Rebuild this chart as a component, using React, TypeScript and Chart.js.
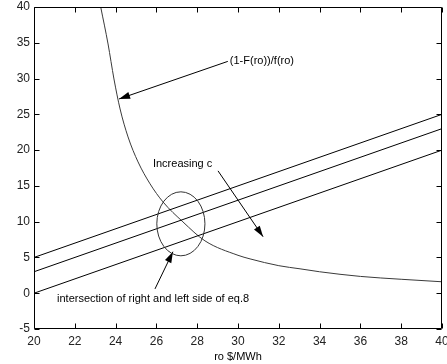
import React, { useEffect, useRef } from "react";
import { Chart, registerables } from "chart.js";

Chart.register(...registerables);

// ---- Data ----
const X_RANGE = [20, 40];
const LINE_HIGH = [5, 25];
const LINE_MID = [3, 23];
const LINE_LOW = [0, 20];
const CURVE_X = [23.27, 23.63, 23.92, 24.22, 24.61, 25.1, 25.69, 26.32, 27.3, 28.38, 30.0, 30.59, 32, 33.04, 34, 36, 38, 40];
const CURVE_Y = [40, 34.83, 29.94, 25.75, 21.84, 18.35, 15.28, 12.77, 9.97, 7.32, 5.3, 4.8, 3.85, 3.41, 3.0, 2.35, 1.95, 1.6];
const X_TICKS = [20, 22, 24, 26, 28, 30, 32, 34, 36, 38, 40];
const Y_TICKS = [-5, 0, 5, 10, 15, 20, 25, 30, 35, 40];
const X_TITLE = "ro $/MWh";
const CURVE_LABEL = "(1-F(ro))/f(ro)";
const INC_LABEL = "Increasing c";
const INTER_LABEL = "intersection of right and left side of eq.8";

const FONT = '"Liberation Sans", Arial, Helvetica, sans-serif';

const annotationPlugin = {
  id: "matlabAnnotations",
  afterDatasetsDraw(chart: any) {
    const { ctx, chartArea } = chart;
    const xs = chart.scales.x;
    const ys = chart.scales.y;
    const px = (v: number) => xs.getPixelForValue(v);
    const py = (v: number) => ys.getPixelForValue(v);

    ctx.save();
    // Box
    const l = Math.round(chartArea.left) + 0.5;
    const r = Math.round(chartArea.right) - 0.5;
    const t = Math.round(chartArea.top) + 0.5;
    const b = Math.round(chartArea.bottom) - 0.5;
    ctx.strokeStyle = "#000";
    ctx.lineWidth = 1;
    ctx.beginPath();
    ctx.rect(l, t, r - l, b - t);
    ctx.stroke();
    // Inward ticks
    const TL = 5;
    ctx.beginPath();
    X_TICKS.forEach((v) => {
      const x = Math.round(px(v)) + 0.5;
      ctx.moveTo(x, b);
      ctx.lineTo(x, b - TL);
      ctx.moveTo(x, t);
      ctx.lineTo(x, t + TL);
    });
    Y_TICKS.forEach((v) => {
      const y = Math.round(py(v)) + 0.5;
      ctx.moveTo(l, y);
      ctx.lineTo(l + TL, y);
      ctx.moveTo(r, y);
      ctx.lineTo(r - TL, y);
    });
    ctx.stroke();

    const arrow = (x0: number, y0: number, x1: number, y1: number) => {
      const ax = px(x0), ay = py(y0), bx = px(x1), by = py(y1);
      ctx.beginPath();
      ctx.moveTo(ax, ay);
      ctx.lineTo(bx, by);
      ctx.stroke();
      const ang = Math.atan2(by - ay, bx - ax);
      const len = 11, half = 3.5;
      ctx.beginPath();
      ctx.moveTo(bx, by);
      ctx.lineTo(bx - len * Math.cos(ang) + half * Math.sin(ang), by - len * Math.sin(ang) - half * Math.cos(ang));
      ctx.lineTo(bx - len * Math.cos(ang) - half * Math.sin(ang), by - len * Math.sin(ang) + half * Math.cos(ang));
      ctx.closePath();
      ctx.fill();
    };

    ctx.fillStyle = "#000";
    ctx.strokeStyle = "#000";
    ctx.lineWidth = 1;
    arrow(29.5, 32.4, 24.17, 27.15);
    arrow(29.02, 17.1, 31.23, 7.9);
    arrow(25.93, 0.6, 26.81, 5.8);

    // Ellipse
    ctx.beginPath();
    const cx = px(27.2), cy = py(9.7);
    const rx = px(27.2 + 1.18) - cx;
    const ry = py(9.7) - py(9.7 + 4.47);
    ctx.ellipse(cx, cy, rx, ry, 0, 0, Math.PI * 2);
    ctx.strokeStyle = "#333";
    ctx.stroke();

    // Text
    ctx.fillStyle = "#000";
    ctx.font = `11px ${FONT}`;
    ctx.textAlign = "left";
    ctx.textBaseline = "middle";
    ctx.fillText(CURVE_LABEL, px(29.6), py(32.5));
    ctx.fillText(INC_LABEL, px(25.83), py(18.1));
    ctx.fillText(INTER_LABEL, px(21.13), py(-0.8));
    ctx.restore();
  },
};

export default function App() {
  const ref = useRef<HTMLCanvasElement | null>(null);
  useEffect(() => {
    if (!ref.current) return;
    const mk = (vals: number[]) => X_RANGE.map((x, i) => ({ x, y: vals[i] }));
    const chart = new Chart(ref.current, {
      type: "line",
      data: {
        datasets: [
          { data: mk(LINE_HIGH), borderColor: "#000", borderWidth: 1, pointRadius: 0 },
          { data: mk(LINE_MID), borderColor: "#000", borderWidth: 1, pointRadius: 0 },
          { data: mk(LINE_LOW), borderColor: "#000", borderWidth: 1, pointRadius: 0 },
          {
            data: CURVE_X.map((x, i) => ({ x, y: CURVE_Y[i] })),
            borderColor: "#3a3a3a",
            borderWidth: 1,
            pointRadius: 0,
            cubicInterpolationMode: "monotone",
          },
        ],
      },
      options: {
        responsive: false,
        animation: false,
        events: [],
        layout: { padding: { top: 7, right: 5, left: 0, bottom: 0 } },
        plugins: { legend: { display: false }, tooltip: { enabled: false } },
        scales: {
          x: {
            type: "linear",
            min: 20,
            max: 40,
            grid: { display: false, drawTicks: false },
            border: { display: false },
            ticks: {
              stepSize: 2,
              color: "#222",
              font: { family: FONT, size: 12 },
              padding: 5,
              maxRotation: 0,
            },
            title: {
              display: true,
              text: X_TITLE,
              color: "#000",
              font: { family: FONT, size: 11 },
              padding: { top: 0, bottom: 0 },
            },
            afterFit(scale: any) {
              scale.height = 35;
              scale.paddingLeft = 0;
              scale.paddingRight = 0;
            },
          },
          y: {
            type: "linear",
            min: -5,
            max: 40,
            grid: { display: false, drawTicks: false },
            border: { display: false },
            ticks: {
              stepSize: 5,
              color: "#222",
              font: { family: FONT, size: 12 },
              padding: 4,
            },
            afterFit(scale: any) {
              scale.width = 34;
              scale.paddingTop = 0;
              scale.paddingBottom = 0;
            },
          },
        },
      },
      plugins: [annotationPlugin],
    } as any);
    return () => chart.destroy();
  }, []);
  return (
    <div style={{ position: "fixed", left: 0, top: 0, width: 447, height: 364, background: "#fff" }}>
      <canvas ref={ref} width={447} height={364} />
    </div>
  );
}
